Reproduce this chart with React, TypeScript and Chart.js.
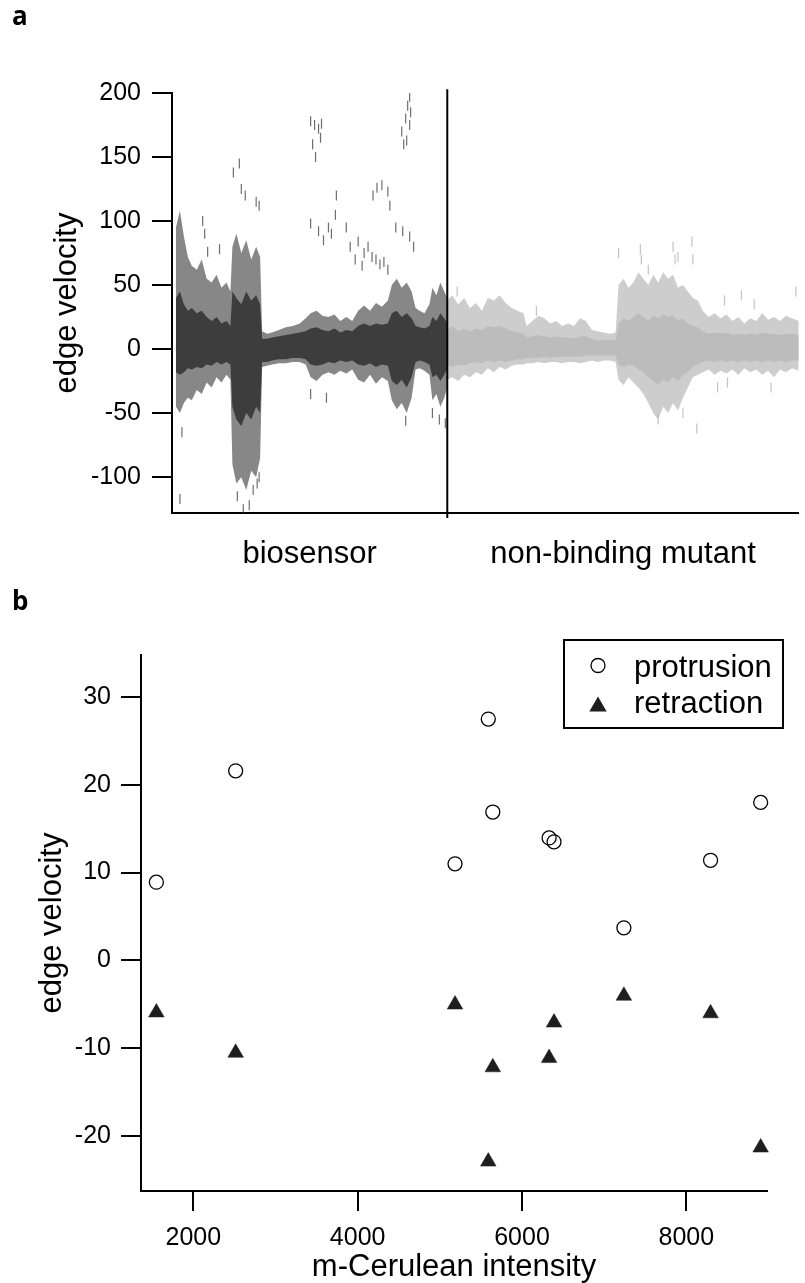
import React, { useEffect, useRef } from "react";
import { Chart, registerables } from "chart.js";

Chart.register(...registerables);

const FONT = "'Liberation Sans', Arial, Helvetica, sans-serif";

// ---------- Panel a: edge velocity traces (time-point index along x) ----------
const totalFrames = 633;
const groupBoundary = 278;
const groupLabels = ["biosensor", "non-binding mutant"];
const velocityTicksA = [-100, -50, 0, 50, 100, 150, 200];
const velocityMinA = -128;
const velocityMaxA = 200;
const dividerSpan = [-132, 203];

const bioX = [4, 8, 12, 16, 20, 25, 30, 35, 40, 45, 50, 55, 59, 61, 65, 70, 75, 80, 85, 89, 91, 96, 101, 108, 115, 122, 129, 135, 140, 146, 152, 158, 164, 170, 176, 182, 188, 194, 200, 206, 212, 218, 222, 227, 232, 237, 242, 246, 250, 255, 260, 263, 267, 271, 275, 278];
const bioOuterHigh = [95, 108, 88, 72, 65, 62, 70, 55, 52, 58, 48, 52, 45, 80, 90, 75, 85, 70, 80, 72, 14, 12, 13, 15, 17, 18, 20, 24, 28, 30, 26, 25, 27, 22, 25, 22, 30, 34, 30, 36, 33, 38, 50, 55, 48, 52, 45, 32, 30, 28, 35, 48, 42, 52, 45, 40];
const bioCoreHigh = [40, 45, 35, 30, 32, 28, 30, 25, 22, 25, 20, 22, 18, 45, 40, 35, 45, 38, 42, 35, 8, 8, 9, 10, 11, 12, 13, 14, 16, 17, 15, 14, 16, 13, 15, 14, 18, 20, 18, 20, 19, 20, 28, 30, 25, 28, 24, 18, 17, 16, 18, 25, 22, 28, 24, 20];
const bioCoreLow = [-18, -20, -18, -15, -16, -14, -15, -12, -13, -10, -12, -10, -12, -45, -55, -60, -50, -55, -45, -50, -10, -10, -9, -8, -8, -7, -7, -8, -12, -13, -12, -10, -11, -9, -10, -9, -12, -13, -11, -14, -12, -13, -25, -28, -24, -30, -22, -10, -9, -10, -12, -22, -20, -25, -20, -15];
const bioOuterLow = [-45, -50, -42, -38, -40, -32, -35, -26, -30, -22, -26, -20, -24, -90, -105, -100, -110, -95, -100, -85, -14, -13, -12, -11, -11, -10, -10, -12, -22, -25, -20, -18, -20, -17, -19, -16, -24, -26, -20, -27, -22, -25, -40, -47, -42, -50, -38, -16, -15, -17, -20, -40, -35, -45, -38, -30];

const mutX = [278, 283, 289, 295, 301, 307, 313, 319, 325, 331, 337, 343, 349, 355, 358, 364, 370, 376, 382, 388, 394, 400, 406, 412, 418, 424, 430, 436, 442, 448, 451, 456, 461, 466, 471, 476, 481, 486, 491, 496, 501, 506, 511, 516, 521, 526, 531, 536, 542, 548, 554, 560, 566, 572, 578, 584, 590, 596, 602, 608, 614, 620, 626, 633];
const mutOuterHigh = [38, 42, 35, 40, 32, 36, 30, 40, 38, 42, 36, 32, 30, 28, 18, 22, 26, 24, 20, 22, 18, 20, 18, 24, 22, 15, 14, 13, 12, 13, 50, 55, 48, 52, 60, 55, 50, 58, 52, 60, 55, 58, 48, 50, 45, 40, 38, 30, 25, 28, 24, 27, 22, 25, 20, 24, 22, 28, 23, 25, 22, 26, 24, 22];
const mutCoreHigh = [15, 18, 14, 16, 14, 16, 15, 18, 17, 18, 16, 14, 13, 12, 9, 10, 11, 10, 9, 10, 9, 9, 8, 10, 10, 8, 7, 7, 7, 7, 20, 24, 22, 25, 28, 25, 22, 26, 24, 27, 25, 26, 22, 24, 20, 18, 17, 14, 12, 13, 12, 13, 11, 12, 11, 12, 11, 13, 12, 12, 11, 12, 12, 11];
const mutCoreLow = [-12, -14, -12, -13, -11, -10, -11, -9, -10, -9, -10, -9, -8, -8, -7, -7, -7, -6, -7, -6, -6, -6, -6, -6, -5, -5, -5, -5, -5, -5, -12, -14, -12, -13, -16, -18, -22, -25, -28, -24, -26, -22, -25, -20, -18, -14, -12, -10, -9, -10, -9, -10, -9, -10, -9, -10, -9, -10, -9, -10, -9, -10, -9, -9];
const mutOuterLow = [-24, -22, -25, -20, -22, -18, -20, -15, -18, -14, -16, -13, -12, -12, -11, -11, -10, -11, -10, -10, -11, -10, -10, -11, -10, -9, -10, -9, -9, -10, -24, -28, -22, -26, -30, -35, -42, -50, -55, -45, -50, -42, -48, -38, -30, -22, -20, -18, -16, -20, -17, -19, -16, -20, -15, -18, -16, -20, -17, -22, -16, -18, -15, -17];

const bioDashX = [140, 144, 148, 151, 142, 145, 150, 232, 234, 236, 238, 240, 241, 240, 237, 203, 207, 212, 218, 220, 166, 165, 140, 148, 153, 158, 161, 176, 180, 188, 194, 198, 185, 192, 202, 206, 210, 214, 218, 226, 233, 240, 244, 8, 10, 62, 68, 70, 74, 85, 88, 66, 72, 78, 82, 86, 156, 140, 236, 263, 270, 276, 31, 33, 48, 36, 88];
const bioDashY = [178, 175, 172, 176, 160, 150, 165, 170, 160, 180, 190, 197, 185, 175, 163, 120, 126, 128, 123, 112, 120, 105, 98, 92, 85, 95, 90, 95, 80, 84, 75, 80, 70, 65, 72, 70, 66, 68, 62, 95, 92, 88, 80, -117, -65, 138, 145, 125, 120, 115, 112, -115, -125, -122, -110, -105, -38, -35, -56, -50, -55, -58, 100, 90, 78, 76, -100];
const mutDashX = [451, 473, 474, 481, 506, 508, 511, 525, 526, 530, 516, 491, 288, 368, 575, 630, 558, 588, 551, 605, 561];
const mutDashY = [75, 78, 70, 62, 80, 70, 72, 84, 70, -62, -50, -55, 45, 30, 42, 45, 38, 35, -30, -30, -26];

// ---------- Panel b: edge velocity vs m-Cerulean intensity ----------
const intensity = [1550, 2515, 5185, 5590, 5645, 6330, 6390, 7240, 8295, 8905];
const protrusion = [8.9, 21.6, 11.0, 27.5, 16.9, 13.95, 13.5, 3.7, 11.4, 18.0];
const retraction = [-5.95, -10.55, -5.05, -22.95, -12.2, -11.15, -7.1, -4.05, -6.05, -21.35];
const intensityTicks = [2000, 4000, 6000, 8000];
const velocityTicksB = [-20, -10, 0, 10, 20, 30];
const intensityMin = 1363;
const intensityMax = 8982;
const velocityMinB = -26.3;
const velocityMaxB = 34.8;

const BIO = "rgb(62,62,62)";
const BIO_FRINGE = "rgba(62,62,62,0.62)";
const BIO_DASH = "rgba(62,62,62,0.75)";
const MUT = "rgb(188,188,188)";
const MUT_FRINGE = "rgba(188,188,188,0.75)";
const MUT_DASH = "rgba(188,188,188,0.9)";

const pts = (xs: number[], ys: number[]) => xs.map((x, i) => ({ x, y: ys[i] }));

function band(xs: number[], hi: number[], lo: number[], color: string, label: string) {
  return [
    { label: label + " high", data: pts(xs, hi), borderColor: "transparent", borderWidth: 0, pointRadius: 0, fill: false, tension: 0 },
    { label: label + " low", data: pts(xs, lo), borderColor: "transparent", borderWidth: 0, pointRadius: 0, fill: "-1", backgroundColor: color, tension: 0 },
  ];
}

function dashes(xs: number[], ys: number[], color: string, label: string) {
  return {
    label,
    data: pts(xs, ys),
    showLine: false,
    pointStyle: "line",
    pointRotation: 90,
    pointRadius: 5,
    pointBorderColor: color,
    pointBorderWidth: 1.2,
    borderColor: color,
    fill: false,
  };
}

const boxLegend = {
  id: "boxLegend",
  afterDraw(chart: any) {
    const { ctx, chartArea } = chart;
    const x0 = chartArea.right - 203;
    const y0 = chartArea.top - 15;
    const w = 219;
    const h = 88;
    ctx.save();
    ctx.fillStyle = "#fff";
    ctx.fillRect(x0, y0, w, h);
    ctx.strokeStyle = "#000";
    ctx.lineWidth = 2;
    ctx.strokeRect(x0, y0, w, h);
    const ds = chart.data.datasets;
    ctx.beginPath();
    ctx.arc(x0 + 34, y0 + 25.5, 7, 0, Math.PI * 2);
    ctx.lineWidth = 1.3;
    ctx.strokeStyle = "#000";
    ctx.stroke();
    const r = 10;
    const cx = x0 + 34;
    const cy = y0 + 64 + r * 0.25;
    ctx.beginPath();
    ctx.moveTo(cx, cy - r);
    ctx.lineTo(cx + r * Math.sin(Math.PI / 3), cy + r / 2);
    ctx.lineTo(cx - r * Math.sin(Math.PI / 3), cy + r / 2);
    ctx.closePath();
    ctx.fillStyle = "#1e1e1e";
    ctx.fill();
    ctx.fillStyle = "#000";
    ctx.font = "31px " + FONT;
    ctx.textAlign = "left";
    ctx.textBaseline = "alphabetic";
    ctx.fillText(ds[0].label, x0 + 70, y0 + 36.7);
    ctx.fillText(ds[1].label, x0 + 70, y0 + 73);
    ctx.restore();
  },
};

export default function App() {
  const refA = useRef<HTMLCanvasElement | null>(null);
  const refB = useRef<HTMLCanvasElement | null>(null);

  useEffect(() => {
    Chart.defaults.font.family = FONT;
    Chart.defaults.color = "#000";

    const groupCenters = [groupBoundary / 2, (groupBoundary + totalFrames) / 2];

    const chartA = new Chart(refA.current as HTMLCanvasElement, {
      type: "line",
      data: {
        datasets: [
          {
            label: "divider",
            data: [
              { x: groupBoundary, y: dividerSpan[0] },
              { x: groupBoundary, y: dividerSpan[1] },
            ],
            borderColor: "#000",
            borderWidth: 2,
            pointRadius: 0,
            fill: false,
            clip: false,
          } as any,
          dashes(bioDashX, bioDashY, BIO_DASH, "biosensor outliers"),
          dashes(mutDashX, mutDashY, MUT_DASH, "mutant outliers"),
          ...band(bioX, bioOuterHigh, bioOuterLow, BIO_FRINGE, "biosensor fringe"),
          ...band(bioX, bioCoreHigh, bioCoreLow, BIO, "biosensor core"),
          ...band(mutX, mutOuterHigh, mutOuterLow, MUT_FRINGE, "mutant fringe"),
          ...band(mutX, mutCoreHigh, mutCoreLow, MUT, "mutant core"),
        ] as any,
      },
      options: {
        animation: false,
        responsive: false,
        devicePixelRatio: 1,
        events: [],
        layout: { padding: { top: 93, right: 0, left: 0, bottom: 0 } },
        plugins: { legend: { display: false }, tooltip: { enabled: false } },
        scales: {
          x: {
            type: "linear",
            min: 0,
            max: totalFrames,
            afterBuildTicks: (s: any) => {
              s.ticks = groupCenters.map((v) => ({ value: v }));
            },
            grid: { display: false, drawTicks: false, tickLength: 0 },
            border: { display: true, color: "#000", width: 2 },
            ticks: {
              autoSkip: false,
              maxRotation: 0,
              minRotation: 0,
              padding: 26,
              color: "#000",
              font: { size: 31, lineHeight: 1 },
              callback: (_v: any, i: number) => groupLabels[i],
            },
            afterFit: (s: any) => {
              s.height = 77;
            },
          },
          y: {
            type: "linear",
            min: velocityMinA,
            max: velocityMaxA,
            afterBuildTicks: (s: any) => {
              s.ticks = velocityTicksA.map((v) => ({ value: v }));
            },
            grid: { drawOnChartArea: false, drawTicks: true, tickLength: 20, color: "#000", lineWidth: 2 },
            border: { display: true, color: "#000", width: 2 },
            ticks: { padding: 11, color: "#000", font: { size: 25 }, callback: (v: any) => String(v) },
            title: {
              display: true,
              text: "edge velocity",
              color: "#000",
              font: { size: 31, lineHeight: 1 },
              padding: { top: 52, bottom: 0 },
            },
            afterFit: (s: any) => {
              s.width = 172;
            },
          },
        },
      } as any,
    });

    const chartB = new Chart(refB.current as HTMLCanvasElement, {
      type: "scatter",
      data: {
        datasets: [
          {
            label: "protrusion",
            data: pts(intensity, protrusion),
            pointStyle: "circle",
            pointRadius: 7,
            backgroundColor: "rgba(255,255,255,0)",
            pointBackgroundColor: "rgba(255,255,255,0)",
            borderColor: "#000",
            pointBorderColor: "#000",
            pointBorderWidth: 1.3,
            clip: false,
          },
          {
            label: "retraction",
            data: pts(intensity, retraction),
            pointStyle: "triangle",
            pointRadius: 9,
            backgroundColor: "#1e1e1e",
            pointBackgroundColor: "#1e1e1e",
            borderColor: "#1e1e1e",
            pointBorderColor: "#1e1e1e",
            pointBorderWidth: 0.5,
            clip: false,
          },
        ] as any,
      },
      options: {
        animation: false,
        responsive: false,
        devicePixelRatio: 1,
        events: [],
        layout: { padding: { top: 65, right: 38, left: 0, bottom: 0 } },
        plugins: { legend: { display: false }, tooltip: { enabled: false } },
        scales: {
          x: {
            type: "linear",
            min: intensityMin,
            max: intensityMax,
            afterBuildTicks: (s: any) => {
              s.ticks = intensityTicks.map((v) => ({ value: v }));
            },
            grid: { drawOnChartArea: false, drawTicks: true, tickLength: 20, color: "#000", lineWidth: 2 },
            border: { display: true, color: "#000", width: 2 },
            ticks: {
              autoSkip: false,
              maxRotation: 0,
              minRotation: 0,
              padding: 14.5,
              color: "#000",
              font: { size: 25, lineHeight: 1 },
              callback: (v: any) => String(v),
            },
            title: {
              display: true,
              text: "m-Cerulean intensity",
              color: "#000",
              font: { size: 31, lineHeight: 1 },
              padding: { top: 0, bottom: 0.5 },
            },
            afterFit: (s: any) => {
              s.height = 92;
            },
          },
          y: {
            type: "linear",
            min: velocityMinB,
            max: velocityMaxB,
            afterBuildTicks: (s: any) => {
              s.ticks = velocityTicksB.map((v) => ({ value: v }));
            },
            grid: { drawOnChartArea: false, drawTicks: true, tickLength: 20, color: "#000", lineWidth: 2 },
            border: { display: true, color: "#000", width: 2 },
            ticks: { padding: 10, color: "#000", font: { size: 25 }, callback: (v: any) => String(v) },
            title: {
              display: true,
              text: "edge velocity",
              color: "#000",
              font: { size: 31, lineHeight: 1 },
              padding: { top: 36.5, bottom: 0 },
            },
            afterFit: (s: any) => {
              s.width = 141;
            },
          },
        },
      } as any,
      plugins: [boxLegend],
    });

    return () => {
      chartA.destroy();
      chartB.destroy();
    };
  }, []);

  const panelLabel: React.CSSProperties = {
    position: "absolute",
    left: 12,
    fontFamily: "'Open Sans', 'DejaVu Sans', sans-serif",
    fontWeight: 700,
    fontSize: 26,
    lineHeight: "26px",
    color: "#000",
  };

  return (
    <div style={{ position: "absolute", left: 0, top: 0, width: 805, height: 1283, background: "#fff", overflow: "hidden" }}>
      <canvas ref={refA} width={805} height={590} style={{ position: "absolute", left: 0, top: 0, width: 805, height: 590 }} />
      <canvas ref={refB} width={805} height={693} style={{ position: "absolute", left: 0, top: 590, width: 805, height: 693 }} />
      <div style={{ ...panelLabel, top: 2 }}>a</div>
      <div style={{ ...panelLabel, top: 587 }}>b</div>
    </div>
  );
}
